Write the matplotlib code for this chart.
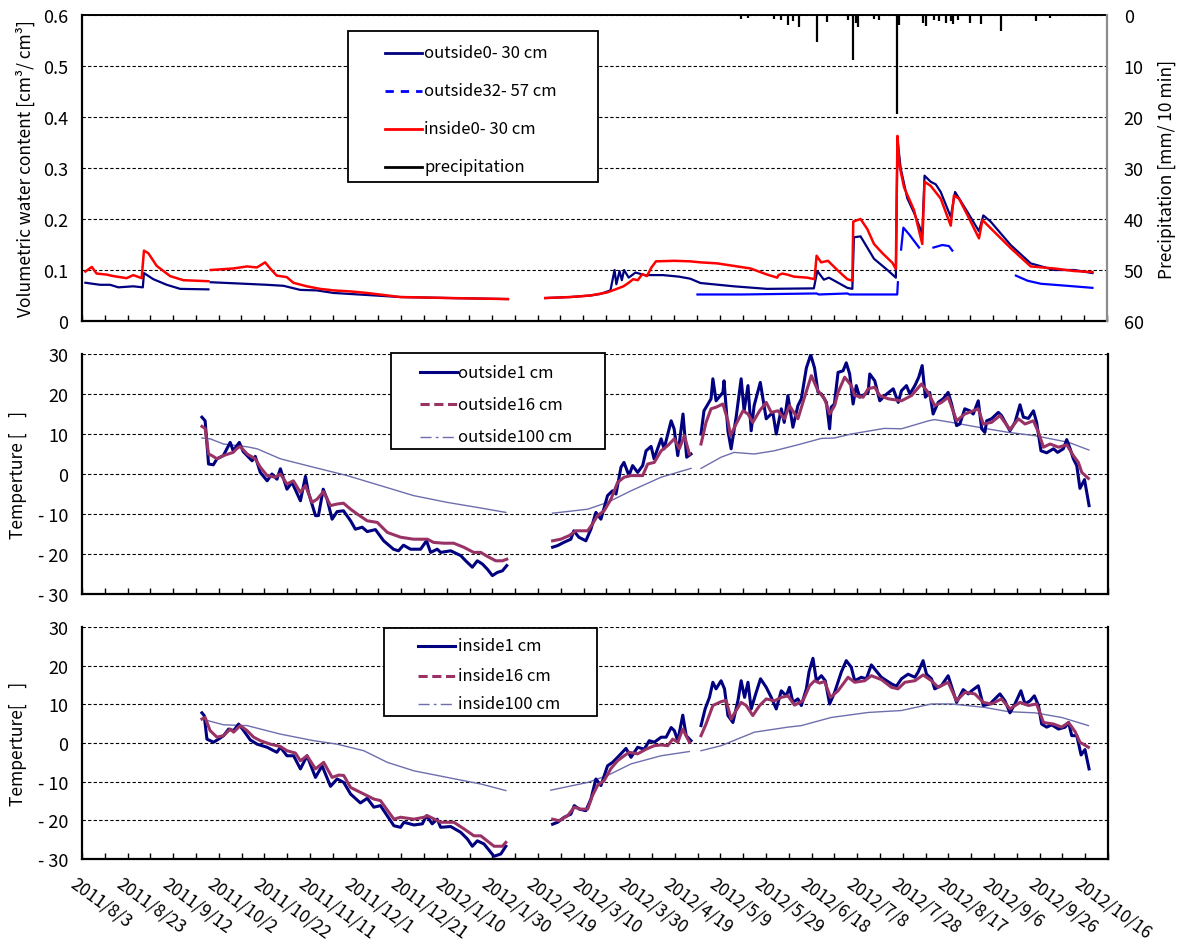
import numpy as np
import pandas as pd
import matplotlib.pyplot as plt
from matplotlib.lines import Line2D
from matplotlib.patches import Rectangle
import matplotlib.transforms as mtransforms

plt.rcParams['font.family'] = ['Noto Sans CJK JP', 'DejaVu Sans']

# =========================
# DATA (x = days since 2011/8/3, nan = gap in the record)
# =========================
nan = np.nan
base = pd.Timestamp("2011-08-03")

# --- panel 1: volumetric water content + precipitation
vwc_out_days = [1.5, 7.9, 12.3, 16.0, 22.5, 26.7, 27.2, 31.3, 37.2, 43.1, 55.5, 56.0,
                56.5, 66.5, 81.1, 88.5, 95.8, 103.1, 110.4, 125.1, 139.7, 161.7, 187.0, 195.0,
                203.4, 214.4, 223.2, 227.6, 232.0, 233.8, 234.6, 236.0, 237.0, 238.0, 240.0,
                243.0, 247.0, 255.0, 262.0, 267.0,
                271.5, 286.2, 300.8, 321.3, 322.8, 325.7, 327.9, 336.0, 338.2, 338.9, 341.8,
                347.7, 353.6, 357.3, 358.0, 359.4, 362.3, 365.3, 368.9, 369.9, 372.6, 374.8,
                377.0, 381.4, 383.3, 388.7, 393.8, 395.7, 398.9, 407.7, 416.5, 426.8, 435.6, 443.6]
vwc_out_vals = [0.075, 0.071, 0.071, 0.066, 0.068, 0.066, 0.094, 0.082, 0.071, 0.063, 0.062, nan,
                0.076, 0.074, 0.071, 0.069, 0.061, 0.060, 0.055, 0.051, 0.047, 0.045, 0.043, nan,
                0.045, 0.047, 0.050, 0.053, 0.060, 0.100, 0.072, 0.098, 0.080, 0.100, 0.085,
                0.095, 0.090, 0.090, 0.087, 0.083,
                0.0745, 0.068, 0.063, 0.064, 0.098, 0.081, 0.085, 0.065, 0.063, 0.164, 0.166,
                0.122, 0.100, 0.085, 0.357, 0.300, 0.241, 0.212, 0.171, 0.285, 0.273, 0.268,
                0.253, 0.204, 0.253, 0.214, 0.176, 0.207, 0.195, 0.149, 0.113, 0.100, 0.100, 0.094]

vwc_deep_days = [270.2, 290.0, 322.5, 323.5, 336.0, 337.0, 357.9, 358.2, 359.0,
                 359.6, 360.6, 363.1, 367.5, 370.0,
                 373.8, 377.7, 380.6, 382.1, 395.0,
                 410.0, 415.1, 421.0, 429.7, 443.6]
vwc_deep_vals = [0.052, 0.052, 0.054, 0.052, 0.054, 0.052, 0.052, 0.076, nan,
                 0.140, 0.183, 0.170, 0.144, nan,
                 0.144, 0.149, 0.147, 0.138, nan,
                 0.089, 0.079, 0.073, 0.070, 0.065]

vwc_in_days = [1.5, 4.3, 6.4, 10.8, 13.8, 19.6, 22.5, 26.2, 27.2, 29.1, 32.8, 38.7, 44.5, 55.5, 56.0,
               56.5, 66.5, 72.4, 76.8, 80.4, 82.6, 85.5, 89.9, 92.8, 98.7, 104.5, 110.4, 117.8,
               125.1, 139.7, 161.7, 187.0, 195.0,
               203.4, 214.4, 223.2, 230.5, 234.2, 237.7, 240.0, 242.0, 244.0, 246.0, 248.0, 250.0,
               252.0, 260.0, 267.0,
               271.5, 278.8, 286.2, 293.5, 300.8, 305.2, 305.8, 307.4, 309.6, 312.5, 318.4, 321.6,
               322.5, 324.5, 327.5, 331.6, 336.0, 338.2, 338.6, 341.8, 344.8, 347.7, 351.4, 355.8,
               357.3, 358.0, 358.9, 360.9, 365.3, 368.9, 369.9, 372.6, 377.0, 381.4, 382.8, 385.0,
               388.7, 393.8, 395.3, 398.9, 407.7, 416.5, 426.8, 435.6, 443.6]
vwc_in_vals = [0.097, 0.106, 0.093, 0.091, 0.088, 0.084, 0.090, 0.084, 0.138, 0.133, 0.108, 0.088,
               0.080, 0.078, nan,
               0.100, 0.103, 0.107, 0.105, 0.115, 0.103, 0.089, 0.086, 0.075, 0.068, 0.063, 0.060,
               0.058, 0.055, 0.047, 0.045, 0.043, nan,
               0.045, 0.047, 0.050, 0.056, 0.062, 0.068, 0.075, 0.082, 0.080, 0.092, 0.088, 0.105,
               0.117, 0.118, 0.117,
               0.115, 0.113, 0.108, 0.103, 0.091, 0.085, 0.090, 0.093, 0.091, 0.087, 0.085, 0.082,
               0.128, 0.115, 0.118, 0.100, 0.082, 0.079, 0.195, 0.200, 0.180, 0.151, 0.133, 0.114,
               0.102, 0.363, 0.305, 0.262, 0.217, 0.151, 0.273, 0.265, 0.240, 0.187, 0.246, 0.240,
               0.208, 0.162, 0.198, 0.182, 0.143, 0.107, 0.103, 0.098, 0.096]

rain_days = [289.1, 292.6, 303.6, 306.7, 309.8, 312.0, 314.6, 322.5, 326.9, 336.1,
             338.3, 339.6, 340.9, 347.5, 349.7, 357.6, 358.5, 369.1, 370.4, 373.9,
             376.1, 379.2, 381.4, 382.2, 384.4, 389.7, 394.6, 403.3, 418.7, 424.9]
rain_vals = [0.7, 0.5, 0.8, 1.0, 2.0, 1.2, 2.3, 5.3, 1.4, 1.0,
             8.8, 1.5, 2.4, 0.8, 1.0, 19.4, 2.0, 1.5, 2.1, 1.0,
             1.2, 1.5, 1.2, 1.7, 1.0, 1.5, 1.8, 3.2, 1.2, 0.5]

# --- panel 2: outside temperatures
out1_days = [52.6, 54.0, 55.5, 57.6, 59.2, 62.0, 65.0, 66.3, 69.0, 70.7,
             74.6, 76.0, 78.2, 81.2, 83.3, 85.5, 87.0, 89.9, 92.1, 95.8,
             98.0, 99.3, 102.4, 103.7, 105.8, 107.5, 109.7, 111.9, 114.7, 117.8,
             119.9, 122.9, 125.1, 128.7, 132.3, 136.6, 138.8, 141.0, 144.1, 148.5,
             151.1, 152.9, 155.8, 157.3, 161.7, 166.1, 168.3, 171.2, 173.4, 175.6,
             177.8, 180.0, 182.2, 184.4, 186.3, 196.0,
             206.4, 208.6, 211.3, 214.4, 215.7, 217.9, 221.0, 223.2, 225.4, 227.6,
             230.5, 232.7, 234.2, 236.4, 237.7, 239.9, 241.5, 243.7, 245.9, 247.4,
             249.6, 250.9, 254.0, 255.3, 258.4, 259.7, 261.3, 263.6, 265.2, 267.1, 269.0,
             271.5, 272.8, 275.9, 276.7, 278.1, 281.1, 281.6, 283.3, 284.7, 286.9,
             289.1, 290.4, 292.1, 293.5, 294.8, 297.5, 300.1, 303.0, 304.5, 306.7,
             308.0, 309.6, 311.8, 314.0, 315.5, 317.7, 319.6, 321.3, 322.8, 324.3,
             326.5, 327.9, 328.6, 330.0, 331.6, 333.8, 335.2, 336.7, 338.2, 339.6,
             341.1, 344.8, 345.5, 347.7, 349.9, 352.1, 355.8, 358.0, 359.4, 361.6,
             363.1, 365.3, 367.0, 368.5, 369.9, 371.8, 373.3, 375.5, 377.7, 379.9,
             381.4, 383.6, 385.0, 387.2, 389.4, 390.9, 393.1, 394.6, 396.0, 396.8,
             398.9, 401.9, 403.3, 407.0, 409.2, 411.4, 412.9, 415.1, 417.3, 418.7,
             420.6, 423.1, 426.1, 427.9, 430.4, 431.9, 433.4, 434.8, 436.3, 437.7,
             439.7, 441.7]
out1_vals = [14.2, 13.3, 2.5, 2.3, 3.8, 4.6, 7.9, 5.8, 7.9, 5.6,
             3.3, 4.4, 0.4, -1.7, 0.0, -1.3, 1.3, -3.8, -2.1, -6.7,
             -0.6, -4.6, -10.4, -10.4, -3.8, -6.3, -11.3, -9.4, -9.2, -11.7,
             -13.8, -13.3, -14.4, -13.9, -16.7, -18.8, -19.2, -17.8, -18.8, -18.8,
             -16.7, -19.6, -18.8, -19.6, -19.2, -20.4, -21.7, -23.3, -21.7, -22.5,
             -23.8, -25.4, -24.6, -24.2, -22.9, nan,
             -18.3, -17.9, -17.1, -16.3, -14.2, -15.8, -16.7, -13.8, -9.6, -11.3,
             -5.4, -4.2, -5.0, 1.7, 2.9, -0.4, 2.1, 0.4, 2.1, 5.8,
             6.9, 3.8, 8.8, 6.3, 13.3, 11.3, 4.6, 15.0, 4.2, 5.0, nan,
             10.0, 15.8, 18.8, 23.8, 18.3, 20.4, 23.3, 10.8, 6.3, 14.2,
             23.8, 15.8, 22.1, 10.8, 17.1, 22.9, 13.8, 15.4, 10.0, 16.3,
             12.9, 19.6, 11.7, 17.1, 18.8, 26.5, 29.8, 26.5, 20.5, 20.0,
             17.9, 11.3, 16.7, 17.5, 25.4, 25.8, 27.8, 25.0, 17.5, 22.1,
             19.2, 20.4, 25.0, 23.3, 18.3, 19.6, 21.3, 17.9, 20.8, 22.1,
             20.0, 22.1, 24.2, 27.1, 19.2, 20.4, 15.0, 17.9, 18.8, 20.4,
             17.5, 12.1, 12.5, 16.3, 15.8, 15.0, 18.3, 11.3, 10.4, 13.3,
             13.8, 15.4, 14.6, 10.8, 12.9, 17.3, 14.2, 13.9, 15.8, 12.9,
             5.8, 5.3, 6.3, 5.4, 6.3, 8.6, 6.3, 3.8, 2.1, -3.6,
             -1.4, -7.9]

out16_days = [52.6, 54.0, 55.5, 57.0, 59.2, 62.0, 66.3, 68.0, 69.4, 72.4,
              76.0, 78.2, 81.2, 84.8, 87.0, 89.9, 92.7, 95.8, 98.0, 100.9,
              103.1, 105.9, 109.0, 111.9, 114.7, 117.8, 120.7, 125.1, 129.5, 133.9,
              139.7, 145.4, 151.5, 154.2, 158.6, 163.0, 167.4, 171.8, 174.9, 177.8,
              181.5, 184.4, 186.3, 196.0,
              206.4, 210.0, 213.7, 216.6, 221.8, 223.9, 226.1, 229.0, 232.0, 234.9,
              237.8, 240.8, 245.9, 248.1, 251.0, 254.0, 256.9, 259.8, 262.0, 264.2, 266.4, 269.0,
              271.5, 273.7, 275.9, 278.1, 281.1, 283.3, 284.4, 286.9, 289.9, 292.1,
              294.2, 297.2, 300.1, 302.3, 305.2, 308.1, 310.3, 314.0, 316.9, 319.9,
              322.8, 325.7, 327.9, 330.1, 331.6, 334.5, 337.4, 338.9, 342.6, 344.8,
              347.7, 349.9, 353.6, 359.4, 363.8, 368.2, 371.1, 374.0, 377.0, 379.9,
              383.6, 387.2, 390.9, 393.1, 395.3, 398.9, 402.6, 407.0, 410.7, 413.6,
              417.3, 419.5, 421.7, 424.6, 428.3, 431.9, 434.8, 437.0, 438.5, 441.4]
out16_vals = [11.9, 11.4, 5.0, 4.6, 3.8, 4.6, 5.4, 6.4, 6.9, 5.0,
              3.8, 1.7, -0.4, -0.8, 0.0, -2.5, -1.7, -4.6, -2.9, -7.1,
              -6.3, -4.4, -7.9, -7.5, -7.3, -8.8, -10.0, -11.7, -12.1, -14.6,
              -15.8, -16.3, -16.3, -17.1, -17.3, -17.3, -18.3, -19.6, -19.6, -20.6,
              -21.7, -21.7, -21.3, nan,
              -16.7, -16.3, -15.4, -14.2, -14.2, -12.5, -10.4, -9.2, -6.3, -2.1,
              -0.8, -0.4, -0.4, 2.5, 2.9, 5.8, 7.1, 8.8, 6.3, 9.6, 5.0, nan,
              7.5, 12.9, 16.3, 16.7, 17.5, 13.3, 9.6, 12.5, 15.8, 15.0,
              12.9, 15.8, 17.9, 15.4, 15.8, 13.8, 17.1, 13.8, 19.2, 24.6,
              20.8, 18.8, 15.0, 17.1, 20.4, 24.2, 22.1, 19.6, 19.2, 21.3,
              21.7, 19.6, 18.8, 18.3, 19.6, 22.5, 20.4, 17.1, 17.9, 19.2,
              13.3, 15.0, 15.8, 16.3, 12.5, 12.9, 14.6, 11.1, 13.8, 12.5,
              13.3, 10.4, 6.7, 7.5, 6.7, 7.3, 4.6, 2.9, 0.4, -1.1]

out100_days = [52.6, 56.2, 62.0, 72.4, 76.8, 87.0, 101.5, 116.3, 130.9, 145.4, 160.2, 174.9,
               185.9, 196.0,
               206.4, 221.8, 230.5, 240.8, 254.0, 267.1, 269.0,
               271.5, 280.3, 286.0, 294.8, 303.6, 314.0, 324.3, 330.0, 337.4, 351.9,
               359.4, 371.3, 373.9, 381.4, 395.9, 406.4, 417.8, 432.8, 441.6]
out100_vals = [9.0, 8.8, 7.5, 6.8, 6.3, 3.8, 1.7, -0.4, -2.9, -5.4, -7.1, -8.5,
               -9.6, nan,
               -9.8, -8.8, -7.1, -4.2, -0.8, 1.4, nan,
               1.4, 4.2, 5.4, 5.0, 5.8, 7.3, 8.9, 9.0, 10.0, 11.4,
               11.3, 13.3, 13.6, 12.9, 11.4, 10.4, 9.6, 7.9, 6.0]

# --- panel 3: inside temperatures
in1_days = [52.6, 53.6, 54.8, 57.7, 59.9, 62.1, 64.3, 66.5, 68.7, 70.9,
            73.8, 76.8, 81.2, 84.1, 85.5, 87.0, 89.9, 92.8, 95.8, 98.7,
            102.4, 105.3, 109.0, 111.9, 114.8, 117.8, 122.1, 125.1, 128.0, 130.9,
            136.8, 139.7, 141.2, 145.6, 149.3, 151.1, 153.6, 155.8, 157.3, 161.7,
            166.1, 169.0, 171.2, 173.4, 176.3, 180.7, 183.7, 185.9, 196.0,
            206.4, 208.6, 211.5, 214.4, 215.9, 218.1, 221.0, 223.2, 225.4, 227.6,
            230.5, 232.7, 234.9, 238.6, 240.8, 243.7, 246.6, 248.8, 251.0, 254.0,
            256.2, 258.4, 259.8, 261.3, 263.5, 265.0, 267.1, 269.0,
            271.5, 273.3, 275.2, 276.7, 278.1, 280.3, 281.8, 283.3, 285.5, 287.7,
            289.1, 290.6, 292.1, 293.5, 295.7, 297.6, 300.1, 302.3, 304.5, 306.7,
            308.9, 310.3, 311.8, 314.0, 315.5, 317.7, 318.9, 320.6, 322.1, 324.3,
            326.0, 327.9, 330.1, 333.0, 335.2, 337.4, 338.9, 341.8, 344.0, 346.2,
            350.6, 355.0, 357.2, 359.4, 362.3, 365.3, 366.7, 368.9, 370.4, 372.6,
            374.0, 377.0, 379.9, 383.6, 386.5, 388.7, 390.2, 393.1, 395.3, 398.2,
            402.6, 404.8, 407.0, 409.2, 411.8, 413.6, 415.8, 417.7, 419.5, 420.9,
            423.1, 425.3, 428.3, 431.2, 432.7, 434.1, 436.3, 438.2, 439.9, 441.7]
in1_vals = [7.8, 7.1, 1.0, 0.2, 1.0, 1.9, 3.6, 3.2, 4.9, 3.2,
            0.8, -0.3, -1.1, -2.0, -2.4, -1.1, -3.3, -3.3, -6.7, -3.3,
            -8.9, -5.9, -11.2, -9.3, -10.2, -13.2, -15.5, -14.3, -16.6, -16.2,
            -21.4, -21.8, -20.5, -21.2, -20.9, -18.8, -20.9, -19.7, -21.8, -21.6,
            -23.1, -24.8, -26.7, -25.3, -26.1, -29.3, -28.7, -26.7, nan,
            -21.0, -20.5, -19.2, -18.4, -16.2, -17.1, -17.5, -14.5, -9.3, -11.0,
            -5.9, -5.0, -3.7, -1.4, -3.7, -1.1, -1.6, 0.6, 0.2, 1.5,
            1.5, 4.0, 3.2, 0.6, 7.2, 1.9, 0.6, nan,
            4.5, 8.8, 11.8, 15.7, 14.0, 16.1, 14.0, 7.1, 5.3, 11.0,
            16.1, 11.8, 15.7, 8.8, 13.1, 16.6, 14.4, 11.8, 8.8, 13.5,
            12.2, 14.4, 10.5, 11.4, 9.7, 14.0, 18.5, 21.9, 16.1, 17.4,
            16.1, 10.1, 13.1, 18.3, 21.3, 19.6, 16.1, 17.0, 16.6, 20.2,
            17.0, 15.3, 14.7, 16.6, 17.8, 17.0, 18.3, 21.3, 17.8, 16.6,
            14.0, 14.9, 17.4, 10.5, 13.8, 12.7, 13.5, 14.8, 9.7, 10.1,
            12.7, 10.9, 7.8, 10.1, 13.5, 10.1, 10.9, 12.2, 9.7, 4.9,
            4.1, 4.7, 3.6, 4.1, 5.3, 1.9, 1.9, -3.1, -1.7, -6.7]

in16_days = [52.6, 54.0, 56.2, 59.2, 62.1, 65.0, 66.5, 69.4, 72.4, 75.3,
             78.2, 82.6, 87.0, 89.9, 93.6, 95.8, 98.7, 102.4, 106.0, 109.7,
             112.6, 114.8, 117.8, 123.6, 128.0, 130.9, 136.8, 139.7, 145.6, 150.0,
             151.5, 157.3, 163.1, 167.5, 171.9, 174.9, 180.7, 184.4, 185.9, 196.0,
             206.4, 209.3, 213.0, 215.9, 218.8, 221.8, 223.9, 226.1, 229.0, 232.0,
             234.9, 237.8, 240.0, 243.7, 247.4, 251.0, 254.0, 256.9, 259.1, 261.3,
             263.5, 266.4, 269.0,
             271.5, 273.7, 276.7, 280.3, 282.5, 284.7, 286.9, 289.1, 291.3, 294.2,
             297.2, 300.1, 303.7, 306.7, 309.6, 312.5, 316.2, 319.1, 321.3, 323.5,
             325.7, 328.3, 331.6, 336.0, 338.9, 343.3, 346.2, 350.6, 355.0, 357.9,
             360.9, 365.3, 368.9, 372.6, 375.5, 379.9, 383.6, 387.2, 391.6, 395.3,
             398.9, 403.3, 407.0, 411.4, 415.1, 418.7, 421.7, 426.1, 429.7, 432.7,
             435.6, 437.7, 441.4]
in16_vals = [6.2, 6.6, 3.2, 1.5, 1.9, 3.6, 2.8, 4.5, 3.2, 1.5,
             0.6, -0.3, -0.9, -2.0, -2.6, -4.6, -3.3, -6.7, -5.0, -8.9,
             -8.3, -8.4, -11.5, -13.2, -14.5, -14.9, -19.7, -19.2, -19.7, -19.2,
             -18.8, -20.5, -20.5, -22.2, -24.0, -24.0, -26.7, -26.7, -25.7, nan,
             -19.7, -20.1, -18.8, -16.6, -17.1, -17.1, -13.6, -11.0, -9.7, -6.6,
             -4.6, -3.3, -2.4, -2.8, -1.6, -0.7, -0.5, -0.7, 1.0, 0.2,
             3.6, 0.2, nan,
             1.9, 4.9, 9.7, 10.7, 11.0, 6.2, 8.4, 10.5, 9.7, 7.1,
             9.7, 11.4, 10.9, 11.8, 12.2, 9.8, 10.9, 14.8, 16.1, 15.5,
             15.9, 11.8, 13.5, 17.0, 15.7, 16.1, 17.4, 16.4, 14.4, 14.0,
             15.7, 16.1, 17.6, 16.1, 14.4, 15.7, 10.9, 13.1, 12.7, 10.5,
             10.1, 11.4, 8.8, 10.5, 9.7, 10.1, 5.3, 4.9, 4.1, 5.3,
             2.9, 0.2, -1.1]

in100_days = [52.6, 62.1, 72.4, 87.0, 101.6, 111.9, 123.6, 133.9, 145.6, 160.2, 174.9, 185.9, 196.0,
              205.6, 221.8, 230.5, 240.8, 254.0, 266.4, 269.0,
              271.5, 280.3, 294.9, 309.6, 315.5, 328.6, 344.8, 359.4, 372.6, 381.4,
              396.0, 406.3, 418.0, 429.7, 441.4]
in100_vals = [6.2, 4.7, 4.5, 2.3, 0.6, -0.3, -2.0, -5.0, -7.2, -8.9, -10.6, -12.3, nan,
              -12.2, -10.2, -8.4, -5.4, -3.3, -2.2, nan,
              -2.0, -0.7, 2.8, 4.1, 4.5, 6.6, 7.9, 8.4, 10.1, 10.1,
              9.2, 8.1, 7.8, 6.6, 4.5]

temp_ticks = [-30, -20, -10, 0, 10, 20, 30]
temp_ticklabels = ["- 30", "- 20", "- 10", "0", "10", "20", "30"]

NAVY = "#000080"
BLUE = "#0000FF"
RED = "#FF0000"
MAROON = "#993366"
LAVENDER = "#6E6EAE"


def to_dates(days):
    return base + pd.to_timedelta(np.asarray(days, dtype=float), unit="D")


# =========================
# FIGURE
# =========================
W, H = 1191, 945
fig = plt.figure(figsize=(W / 100, H / 100), dpi=100)


def px_axes(x0, y0, x1, y1):
    return fig.add_axes([x0 / W, 1 - y1 / H, (x1 - x0) / W, (y1 - y0) / H])


ax1 = px_axes(82, 16, 1107, 322)
ax2 = px_axes(82, 355, 1108, 595)
ax3 = px_axes(82, 628, 1108, 860)

xmin = base
xmax = base + pd.Timedelta(days=450)
ticks = pd.date_range(base, periods=46, freq="10D")
ticklabels = [f"{t.year}/{t.month}/{t.day}" if i % 2 == 0 else "" for i, t in enumerate(ticks)]

grid_kw = dict(color="black", linestyle=(0, (3, 2)), linewidth=0.8)

for ax in (ax1, ax2, ax3):
    ax.set_xlim(xmin, xmax)
    ax.set_xticks(ticks)
    ax.set_xticklabels(ticklabels if ax is ax3 else [""] * len(ticks))
    ax.tick_params(axis="x", direction="in", length=4, width=1.0, pad=11, labelsize=12.5)
    ax.tick_params(axis="y", length=0, pad=10, labelsize=13)
    ax.yaxis.grid(True, **grid_kw)
    ax.set_axisbelow(True)
    for s in ("left", "bottom"):
        ax.spines[s].set_linewidth(1.6)
    ax.set_facecolor("white")

# --- panel 1
ax1.plot(to_dates(vwc_out_days), vwc_out_vals, color=NAVY, lw=1.6, zorder=3)
ax1.plot(to_dates(vwc_deep_days), vwc_deep_vals, color=BLUE, lw=1.6, zorder=2)
ax1.plot(to_dates(vwc_in_days), vwc_in_vals, color=RED, lw=1.8, zorder=4)
ax1.set_ylim(0, 0.6)
ax1.set_yticks([0, 0.1, 0.2, 0.3, 0.4, 0.5, 0.6])
ax1.set_yticklabels(["0", "0.1", "0.2", "0.3", "0.4", "0.5", "0.6"])
ax1.set_ylabel("Volumetric water content [cm³/ cm³]", fontsize=12.5, labelpad=6)
ax1.spines["right"].set_visible(False)
ax1.spines["top"].set_linewidth(1.4)

ax1r = ax1.twinx()
ax1r.vlines(to_dates(rain_days), 0, rain_vals, color="black", lw=1.6)
ax1r.set_ylim(60, 0)
ax1r.set_yticks([0, 10, 20, 30, 40, 50, 60])
ax1r.tick_params(axis="y", length=0, pad=12, labelsize=13)
ax1r.set_ylabel("Precipitation [mm/ 10 min]", fontsize=12.5, labelpad=10)
for s in ("left", "top", "bottom"):
    ax1r.spines[s].set_visible(False)
ax1r.spines["right"].set_color("#8C8C8C")
ax1r.spines["right"].set_linewidth(1.6)

# --- panel 2
ax2.plot(to_dates(out100_days), out100_vals, color=LAVENDER, lw=1.0, zorder=2)
ax2.plot(to_dates(out1_days), out1_vals, color=NAVY, lw=2.2, zorder=3)
ax2.plot(to_dates(out16_days), out16_vals, color=MAROON, lw=2.2, zorder=4)
ax2.set_ylabel("Temperture [    ]", fontsize=12.5, labelpad=8)

# --- panel 3
ax3.plot(to_dates(in100_days), in100_vals, color=LAVENDER, lw=1.0, zorder=2)
ax3.plot(to_dates(in1_days), in1_vals, color=NAVY, lw=2.2, zorder=3)
ax3.plot(to_dates(in16_days), in16_vals, color=MAROON, lw=2.2, zorder=4)
ax3.set_ylabel("Temperture[    ]", fontsize=12.5, labelpad=8)

for ax in (ax2, ax3):
    ax.set_ylim(-30, 30)
    ax.set_yticks(temp_ticks)
    ax.set_yticklabels(temp_ticklabels)
    ax.spines["top"].set_visible(False)
    ax.spines["right"].set_linewidth(1.6)

shift = mtransforms.ScaledTranslation(-4 / 100, 0, fig.dpi_scale_trans)
for lab in ax3.get_xticklabels():
    lab.set_rotation(-36)
    lab.set_rotation_mode("anchor")
    lab.set_ha("left")
    lab.set_va("top")
    lab.set_transform(lab.get_transform() + shift)

fig.align_ylabels([ax2, ax3])


# =========================
# LEGENDS (boxes placed in pixel coordinates of the figure)
# =========================
def draw_legend(box, hx, tx, rows, entries, fontsize=12):
    x0, y0, x1, y1 = box
    fig.add_artist(Rectangle((x0 / W, 1 - y1 / H), (x1 - x0) / W, (y1 - y0) / H,
                             transform=fig.transFigure, facecolor="white",
                             edgecolor="black", lw=1.3, zorder=10))
    for y, (label, color, ls, lw) in zip(rows, entries):
        fig.add_artist(Line2D([hx[0] / W, hx[1] / W], [1 - y / H, 1 - y / H],
                              transform=fig.transFigure, color=color, ls=ls, lw=lw, zorder=11))
        fig.text(tx / W, 1 - y / H, label, fontsize=fontsize, va="center", ha="left", zorder=12)


draw_legend((348, 32, 598, 183), (385, 422), 424, [54, 92, 130, 168],
            [("outside0- 30 cm", NAVY, "-", 2.0),
             ("outside32- 57 cm", BLUE, (0, (3, 2.5)), 2.0),
             ("inside0- 30 cm", RED, "-", 2.0),
             ("precipitation", "black", "-", 2.0)])
draw_legend((391, 354, 605, 450), (420, 457), 458, [373, 405, 438],
            [("outside1 cm", NAVY, "-", 2.2),
             ("outside16 cm", MAROON, (0, (3, 1.5)), 2.2),
             ("outside100 cm", LAVENDER, (0, (8, 3, 2, 3)), 1.0)])
draw_legend((384, 629, 597, 717), (418, 455), 458, [647, 677, 705],
            [("inside1 cm", NAVY, "-", 2.2),
             ("inside16 cm", MAROON, (0, (3, 1.5)), 2.2),
             ("inside100 cm", LAVENDER, (0, (8, 3, 2, 3)), 1.0)])

fig.savefig("out.png", dpi=100)
